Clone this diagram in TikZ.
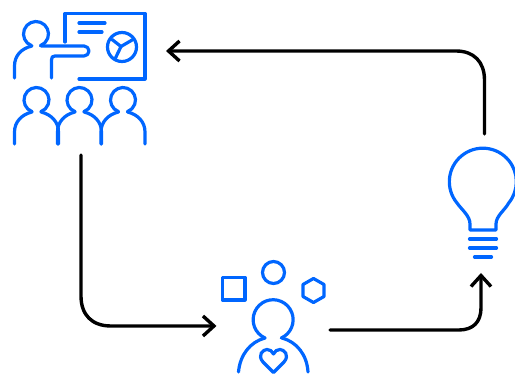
\documentclass[tikz,border=0pt]{standalone}
\usetikzlibrary{arrows.meta}
\definecolor{iconblue}{HTML}{0066FF}
\tikzset{
	icon/.style={draw=iconblue, line width=3.2pt, line cap=round, line join=round},
	flow/.style={draw=black, line width=3.4pt, line cap=round, -{Straight Barb[length=11pt, width=20pt, line width=3.4pt]}},
	head/.pic={
		\draw[icon] (110.6:12.5) arc (110.6:429.4:12.5);
	},
	listener/.pic={
		\draw[icon] (110.6:12.5) arc (110.6:429.4:12.5);
		\draw[icon] (-4.5, 12) .. controls (-15, 14.5) and (-22, 22) .. (-22, 32) -- (-22, 44);
		\draw[icon] (4.5, 12) .. controls (15, 14.5) and (22, 22) .. (22, 32) -- (22, 44);
	}
}
\begin{document}
\begin{tikzpicture}[x=1pt, y=-1pt]
		\useasboundingbox (0, 0) rectangle (515, 379);
		%%%%% START %%%%%
		
		% presenter
		\pic at (36, 34) {head};
		\draw[icon] (32, 46) .. controls (21, 48.5) and (14.5, 56) .. (14.5, 66) -- (14.5, 78);
		\draw[icon] (41, 46) -- (84, 46) arc (-90:90:5) -- (55, 56) .. controls (52.5, 56) and (51.5, 57) .. (51.5, 60) -- (51.5, 78);
		
		% board
		\draw[icon] (65, 42) -- (65, 13.5) -- (145, 13.5) -- (145, 79) -- (79, 79);
		\draw[icon] (79, 23) -- (105, 23);
		\draw[icon] (79, 32) -- (102, 32);
		\draw[icon] (122, 47) circle (14.5);
		\draw[icon] (112, 39.5) -- (121, 46.5) -- (133, 39.5);
		\draw[icon] (121, 46.5) -- (115.5, 58);
		
		% audience
		\pic at (36.5, 100) {listener};
		\pic at (79.5, 100) {listener};
		\pic at (123, 100) {listener};
		
		% thinker
		\draw[icon] (265, 338) arc (114:426:20);
		\draw[icon] (265, 338) .. controls (250, 342) and (240, 355) .. (238.5, 372);
		\draw[icon] (282, 338) .. controls (297, 342) and (307, 355) .. (308, 372);
		\draw[icon] (273.5, 372.5) -- (263, 362) .. controls (257, 355) and (263, 349.5) .. (267, 349.5) .. controls (270, 349.5) and (272, 351) .. (273.5, 354) .. controls (275, 351) and (277, 349.5) .. (280, 349.5) .. controls (284, 349.5) and (290, 355) .. (284, 362) -- cycle;
		\draw[icon] (222.5, 277.5) rectangle (245, 300);
		\draw[icon] (273.5, 272.5) circle (11);
		\draw[icon] (313.5, 278.5) -- (324, 284.5) -- (324, 296.5) -- (313.5, 302.5) -- (303, 296.5) -- (303, 284.5) -- cycle;
		
		% bulb
		\draw[icon] (470, 230) -- (470, 224) .. controls (470, 216) and (462, 210) .. (457, 203) arc (140.5:399.5:33.5) .. controls (505, 210) and (496, 216) .. (496, 224) -- (496, 230) -- cycle;
		\draw[icon] (469.5, 239) -- (496.5, 239);
		\draw[icon] (469.5, 248) -- (496.5, 248);
		\draw[icon] (474.5, 257) -- (491.5, 257);
		
		% cycle
		\coordinate (bulbout) at (484.5, 134);
		\coordinate (boardin) at (166, 51);
		\coordinate (boardout) at (81, 155);
		\coordinate (thinkerin) at (216.5, 326);
		\coordinate (thinkerout) at (330, 330);
		\coordinate (bulbin) at (481, 273);
		\draw[flow] (bulbout) -- (484.5, 80) .. controls (484.5, 62) and (474, 51) .. (456, 51) -- (boardin);
		\draw[flow] (boardout) -- (81, 296) .. controls (81, 315) and (92, 326) .. (111, 326) -- (thinkerin);
		\draw[flow] (thinkerout) -- (459, 330) .. controls (473, 330) and (481, 322) .. (481, 308) -- (bulbin);
		
		%%%%% END %%%%%
	\end{tikzpicture}
\end{document}
